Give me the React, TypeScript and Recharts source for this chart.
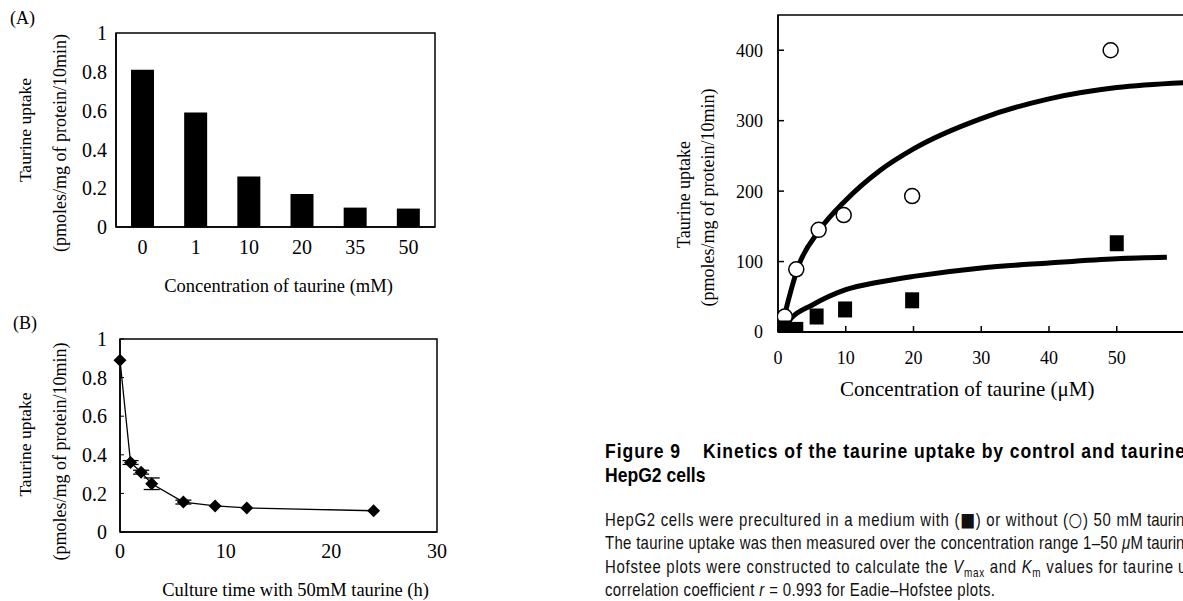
import React from "react";
import {
  Bar,
  BarChart,
  ComposedChart,
  ErrorBar,
  Label,
  Line,
  LineChart,
  ReferenceArea,
  Scatter,
  XAxis,
  YAxis,
} from "recharts";

const SERIF = "'Liberation Serif', 'Times New Roman', serif";
const SANS = "'Liberation Sans', Arial, sans-serif";

// (A) uptake after preculture with taurine
const concLabels = ["0", "1", "10", "20", "35", "50"];
const uptakeA = [0.81, 0.59, 0.26, 0.17, 0.1, 0.095];

// (B) time course with 50 mM taurine
const hoursB = [0, 1, 2, 3, 6, 9, 12, 24];
const uptakeB = [0.89, 0.36, 0.31, 0.25, 0.155, 0.135, 0.125, 0.11];
const errB = [0, 0.01, 0.01, 0.03, 0.01, 0, 0, 0];

const yTicksAB = [0, 0.2, 0.4, 0.6, 0.8, 1];
const xTicksB = [0, 10, 20, 30];

// Figure 9 kinetics
const ctrlConc = [1, 2.7, 6, 9.7, 19.8, 49.1];
const ctrlUptake = [22, 89, 145, 166, 193, 400];
const treatedConc = [1, 2.7, 5.7, 9.9, 19.8, 50];
const treatedUptake = [5, 3, 22, 32, 45, 126];
const ctrlFitConc = [0.4, 1, 2, 3, 6, 10, 15, 20, 30, 40, 50, 60];
const ctrlFitUptake = [0, 25, 62, 93, 143, 187, 229, 260, 303, 331, 347, 354];
const treatedFitConc = [1, 2, 5, 10, 15, 20, 30, 40, 50, 57.4];
const treatedFitUptake = [8, 20, 38, 60, 71, 79, 91, 98, 104, 106];
const xTicksC = [0, 10, 20, 30, 40, 50];
const yTicksC = [0, 100, 200, 300, 400];

const dataA = concLabels.map((c, i) => ({ conc: c, uptake: uptakeA[i] }));
const dataB = hoursB.map((h, i) => ({ h, uptake: uptakeB[i], err: errB[i] }));
const zip = (xs: number[], ys: number[]) => xs.map((x, i) => ({ x, y: ys[i] }));

const tickStyle = (size: number) => ({ fill: "#000", fontSize: size, fontFamily: SERIF });
const axisLine = { stroke: "#000", strokeWidth: 1.5 };

function TitleV(props: any) {
  const { viewBox, value, shiftX = 0, shiftY = 0, size = 18 } = props;
  if (!viewBox) return null;
  const x = viewBox.x + shiftX;
  const y = viewBox.y + viewBox.height / 2 + shiftY;
  return (
    <text
      x={x}
      y={y}
      transform={`rotate(-90 ${x} ${y})`}
      textAnchor="middle"
      dominantBaseline="central"
      fontFamily={SERIF}
      fontSize={size}
      fill="#000"
    >
      {value}
    </text>
  );
}

function Diamond(props: any) {
  const { cx, cy } = props;
  if (cx == null || cy == null) return null;
  const r = 6.5;
  return (
    <polygon
      points={`${cx},${cy - r} ${cx + r},${cy} ${cx},${cy + r} ${cx - r},${cy}`}
      fill="#000"
    />
  );
}

function OpenCircle(props: any) {
  const { cx, cy } = props;
  return <circle cx={cx} cy={cy} r={7.5} fill="#fff" stroke="#000" strokeWidth={1.5} />;
}

function FilledSquare(props: any) {
  const { cx, cy } = props;
  return <rect x={cx - 7} y={cy - 8} width={14} height={16} fill="#000" />;
}

function PanelA() {
  return (
    <BarChart width={460} height={300} data={dataA} margin={{ top: 33, right: 25, bottom: 0, left: 0 }}>
      <XAxis
        dataKey="conc"
        height={73}
        axisLine={axisLine}
        tickLine={false}
        tickSize={6}
        tickMargin={7}
        tick={tickStyle(20)}
      >
        <Label
          value="Concentration of taurine (mM)"
          position="insideBottom"
          offset={8}
          dx={3}
          fontSize={18.5}
          fontFamily={SERIF}
          fill="#000"
        />
      </XAxis>
      <YAxis
        type="number"
        domain={[0, 1]}
        ticks={yTicksAB}
        width={116}
        axisLine={axisLine}
        tickLine={false}
        tickSize={0}
        tickMargin={9}
        tick={tickStyle(20)}
      >
        <Label value="Taurine uptake" content={<TitleV shiftX={25} shiftY={0} size={17.5} />} />
        <Label value="(pmoles/mg of protein/10min)" content={<TitleV shiftX={60} shiftY={13} size={18} />} />
      </YAxis>
      <ReferenceArea y1={0} y2={1} fill="none" stroke="#000" strokeWidth={1.5} />
      <Bar dataKey="uptake" fill="#000" barSize={23} isAnimationActive={false} />
    </BarChart>
  );
}

function PanelB() {
  return (
    <LineChart width={460} height={301} data={dataB} margin={{ top: 39, right: 23, bottom: 0, left: 0 }}>
      <XAxis
        type="number"
        dataKey="h"
        domain={[0, 30]}
        ticks={xTicksB}
        height={69}
        axisLine={axisLine}
        tickLine={false}
        tickSize={6}
        tickMargin={6}
        tick={tickStyle(20)}
      >
        <Label
          value="Culture time with 50mM taurine (h)"
          position="insideBottom"
          offset={5}
          dx={17}
          fontSize={18.5}
          fontFamily={SERIF}
          fill="#000"
        />
      </XAxis>
      <YAxis
        type="number"
        domain={[0, 1]}
        ticks={yTicksAB}
        width={120}
        axisLine={axisLine}
        tickLine={{ stroke: "#000" }}
        tickSize={-4}
        tickMargin={17}
        tick={tickStyle(20)}
      >
        <Label value="Taurine uptake" content={<TitleV shiftX={25} shiftY={9} size={17.5} />} />
        <Label value="(pmoles/mg of protein/10min)" content={<TitleV shiftX={60} shiftY={16} size={18} />} />
      </YAxis>
      <ReferenceArea y1={0} y2={1} fill="none" stroke="#000" strokeWidth={1.5} />
      <Line
        dataKey="uptake"
        type="linear"
        stroke="#000"
        strokeWidth={1.3}
        dot={(p: any) => <Diamond key={`d${p.index}`} {...p} />}
        activeDot={false}
        isAnimationActive={false}
      >
        <ErrorBar dataKey="err" width={8} stroke="#000" strokeWidth={1.3} direction="y" />
      </Line>
    </LineChart>
  );
}

function PanelC() {
  return (
    <ComposedChart width={530} height={420} margin={{ top: 15, right: 5.5, bottom: 0, left: 0 }}>
      <XAxis
        type="number"
        dataKey="x"
        domain={[0, 60]}
        ticks={xTicksC}
        allowDataOverflow
        height={88}
        axisLine={{ stroke: "#000", strokeWidth: 2 }}
        tickLine={{ stroke: "#000", strokeWidth: 1.5 }}
        tickSize={-6}
        tickMargin={25}
        tick={tickStyle(18)}
      >
        <Label
          value="Concentration of taurine (μM)"
          position="insideBottom"
          offset={24}
          dx={-14}
          fontSize={21}
          fontFamily={SERIF}
          fill="#000"
        />
      </XAxis>
      <YAxis
        type="number"
        domain={[0, 450]}
        ticks={yTicksC}
        allowDataOverflow
        width={118}
        axisLine={axisLine}
        tickLine={{ stroke: "#000", strokeWidth: 1.5 }}
        tickSize={-6}
        tickMargin={21}
        tick={tickStyle(18)}
      >
        <Label value="Taurine uptake" content={<TitleV shiftX={24} shiftY={21} size={18} />} />
        <Label value="(pmoles/mg of protein/10min)" content={<TitleV shiftX={48} shiftY={24} size={18} />} />
      </YAxis>
      <ReferenceArea y1={0} y2={450} fill="none" stroke="#000" strokeWidth={1.5} />
      <Line
        data={zip(ctrlFitConc, ctrlFitUptake)}
        dataKey="y"
        type="monotone"
        stroke="#000"
        strokeWidth={5}
        dot={false}
        activeDot={false}
        isAnimationActive={false}
      />
      <Line
        data={zip(treatedFitConc, treatedFitUptake)}
        dataKey="y"
        type="monotone"
        stroke="#000"
        strokeWidth={5}
        dot={false}
        activeDot={false}
        isAnimationActive={false}
      />
      <Scatter data={zip(ctrlConc, ctrlUptake)} dataKey="y" shape={<OpenCircle />} isAnimationActive={false} />
      <Scatter data={zip(treatedConc, treatedUptake)} dataKey="y" shape={<FilledSquare />} isAnimationActive={false} />
    </ComposedChart>
  );
}

// caption is set in a horizontally squeezed sans to mimic the condensed journal face
const X0 = 605;
const squeeze = (s: number) => `translate(${X0},0) scale(${s},1) translate(${-X0},0)`;
const SQ = 0.83; // body
const SB = 0.9; // bold heading
const ux = (x: number, s: number) => X0 + (x - X0) / s;
const uw = (w: number, s: number) => w / s;

function Caption() {
  const body = { fontFamily: SANS, fontSize: 18, fill: "#111" };
  const bold = { fontFamily: SANS, fontSize: 19.5, fontWeight: "bold" as const, fill: "#000" };
  const sym = { fontFamily: "'DejaVu Sans', sans-serif", fontSize: 19 };
  return (
    <svg width={583} height={171} style={{ position: "absolute", left: 600, top: 430 }}>
      <g transform="translate(-600,-430)">
        <g transform={squeeze(SB)}>
          <text x={ux(605, SB)} y={458} {...bold} textLength={uw(75, SB)} lengthAdjust="spacing">
            Figure 9
          </text>
          <text x={ux(703, SB)} y={458} {...bold} textLength={uw(482, SB)} lengthAdjust="spacing">
            Kinetics of the taurine uptake by control and taurine
          </text>
          <text x={ux(605, SB)} y={482} {...bold}>
            HepG2 cells
          </text>
        </g>
        <g transform={squeeze(SQ)}>
          <text x={ux(605, SQ)} y={526} {...body} textLength={uw(537, SQ)} lengthAdjust="spacing">
            HepG2 cells were precultured in a medium with (<tspan {...sym}>■</tspan>) or without (
            <tspan {...sym}>○</tspan>) 50 mM
          </text>
          <text x={ux(1147, SQ)} y={526} {...body}>taurine</text>

          <text x={ux(605, SQ)} y={549} {...body} textLength={uw(538, SQ)} lengthAdjust="spacing">
            The taurine uptake was then measured over the concentration range 1–50{" "}
            <tspan fontStyle="italic">μ</tspan>M
          </text>
          <text x={ux(1147, SQ)} y={549} {...body}>taurine</text>

          <text x={ux(605, SQ)} y={573} {...body} textLength={uw(568, SQ)} lengthAdjust="spacing">
            Hofstee plots were constructed to calculate the <tspan fontStyle="italic">V</tspan>
            <tspan fontSize={12} dy={4}>max</tspan>
            <tspan dy={-4}> and </tspan>
            <tspan fontStyle="italic">K</tspan>
            <tspan fontSize={12} dy={4}>m</tspan>
            <tspan dy={-4}> values for taurine</tspan>
          </text>
          <text x={ux(1178, SQ)} y={573} {...body}>uptake</text>

          <text x={ux(605, SQ)} y={596} {...body} textLength={uw(390, SQ)} lengthAdjust="spacing">
            correlation coefficient <tspan fontStyle="italic">r</tspan> = 0.993 for Eadie–Hofstee plots.
          </text>
        </g>
      </g>
    </svg>
  );
}

export default function App() {
  return (
    <div
      style={{
        position: "fixed",
        left: 0,
        top: 0,
        width: 1183,
        height: 601,
        overflow: "hidden",
        background: "#fff",
      }}
    >
      <div style={{ position: "absolute", left: 10, top: 8, fontFamily: SERIF, fontSize: 18 }}>(A)</div>
      <div style={{ position: "absolute", left: 13, top: 313, fontFamily: SERIF, fontSize: 18 }}>(B)</div>
      <div style={{ position: "absolute", left: 0, top: 0 }}>
        <PanelA />
      </div>
      <div style={{ position: "absolute", left: 0, top: 300 }}>
        <PanelB />
      </div>
      <div style={{ position: "absolute", left: 660, top: 0 }}>
        <PanelC />
      </div>
      <Caption />
    </div>
  );
}
